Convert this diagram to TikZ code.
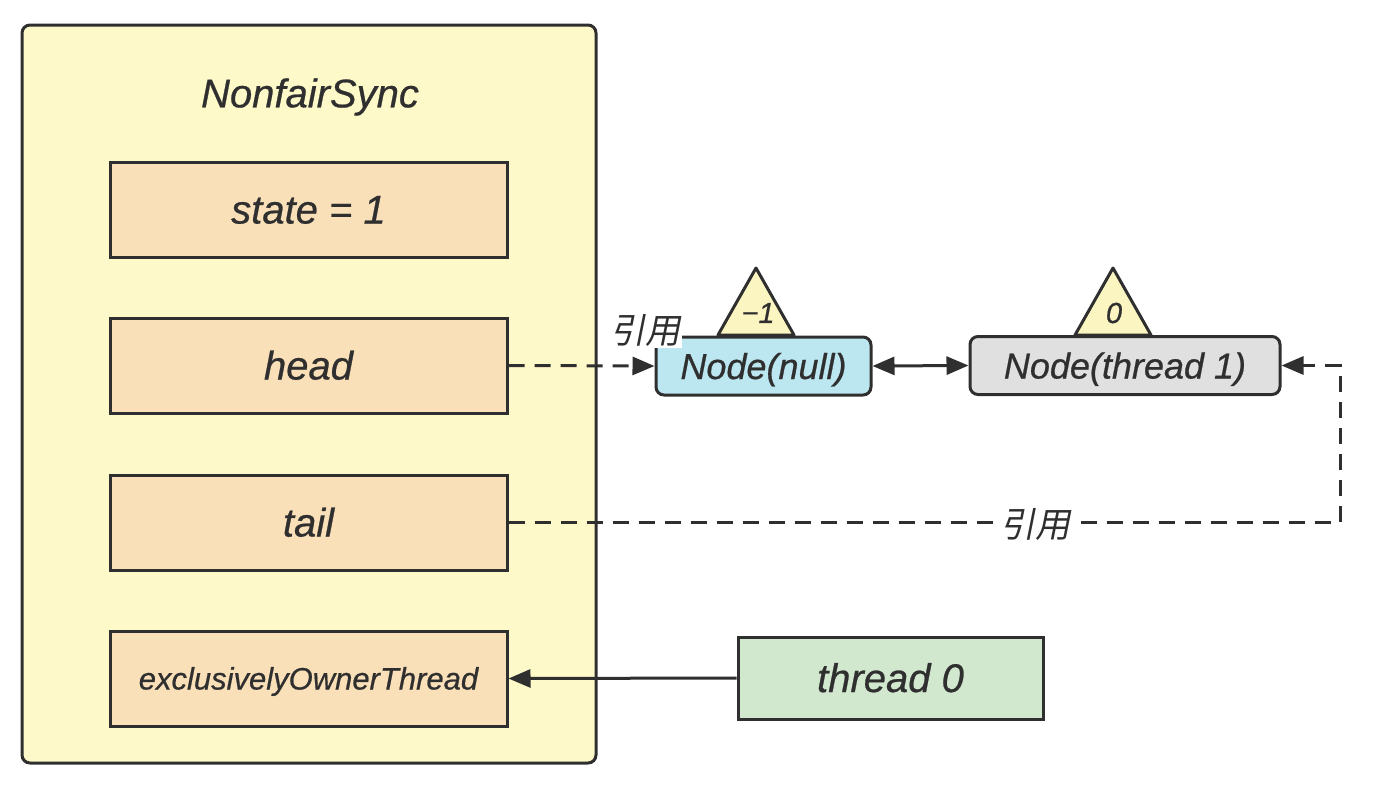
\documentclass[tikz,border=0pt]{standalone}
\usepackage{fontspec}
\usepackage{xcolor}
\usetikzlibrary{arrows.meta}
\setmainfont{Liberation Sans}[FakeBold=0.6]
\newfontfamily\cjk{Noto Sans CJK SC}[FakeSlant=0.2]
\definecolor{ink}{HTML}{2F2F2F}
\definecolor{syncfill}{HTML}{FEF9C9}
\definecolor{fieldfill}{HTML}{FAE0B8}
\definecolor{nullfill}{HTML}{BDE7F0}
\definecolor{threadfill}{HTML}{E0E0E0}
\definecolor{ownerfill}{HTML}{D1E7CE}
\definecolor{trifill}{HTML}{FBF5C1}
\tikzset{
	syncbox/.style={draw=ink,fill=syncfill,line width=1.5pt,rounded corners=4pt,minimum width=287pt,minimum height=369pt,inner sep=0pt},
	fieldbox/.style={draw=ink,fill=fieldfill,line width=1.5pt,minimum width=198.5pt,minimum height=47.5pt,inner sep=0pt,text height=14pt,text depth=0pt,font=\itshape\fontsize{20}{24}\selectfont,text=ink},
	qnode/.style={draw=ink,line width=1.5pt,rounded corners=4pt,minimum height=29pt,inner sep=0pt,text height=13pt,text depth=0pt,font=\itshape\fontsize{18}{22}\selectfont,text=ink},
	tri/.style={draw=ink,fill=trifill,line width=1.5pt,line join=round},
	trilabel/.style={font=\itshape\fontsize{14.5}{17}\selectfont,text=ink,inner sep=0pt},
	reflabel/.style={fill=white,font=\cjk\fontsize{17.5}{19}\selectfont,text=ink,inner sep=1pt},
	link/.style={draw=ink,line width=1.5pt,-{Triangle[length=11pt,width=9pt]}},
	dashlink/.style={link,dash pattern=on 8pt off 5pt}
}
\begin{document}
\begin{tikzpicture}[x=0.5pt,y=-0.5pt]
	\useasboundingbox (0,0) rectangle (1380,794);
	\node[syncbox] (sync) at (309,394) {};
	\node[font=\itshape\fontsize{20}{24}\selectfont,text=ink] (title) at (310,97) {NonfairSync};
	\node[fieldbox] (state) at (308.5,209.5) {state = 1};
	\node[fieldbox] (head) at (308.5,365.5) {head};
	\node[fieldbox] (tail) at (308.5,522.5) {tail};
	\node[fieldbox,font=\itshape\fontsize{15.5}{18}\selectfont,text height=11pt] (owner) at (308.5,678.5) {exclusivelyOwnerThread};
	\draw[tri] (718,335) -- (756,268) -- (794,335) -- cycle;
	\draw[tri] (1075,335) -- (1113,268) -- (1151,335) -- cycle;
	\node[qnode,fill=nullfill,minimum width=107.5pt] (nnull) at (763.5,366) {Node(null)};
	\node[qnode,fill=threadfill,minimum width=155pt] (nthread) at (1125,365.5) {Node(thread 1)};
	\node[trilabel] (wnull) at (758,313) {−1};
	\node[trilabel] (wthread) at (1114,313) {0};
	\node[fieldbox,fill=ownerfill,minimum width=152.5pt,minimum height=41pt] (thread0) at (890.5,678) {thread 0};
	\coordinate (bend) at (1340,521);
	\draw[dashlink] (head.east) -- (nnull.west);
	\draw[link,{Triangle[length=11pt,width=9pt]}-{Triangle[length=11pt,width=9pt]}] (nnull.east) -- (nthread.west);
	\draw[dashlink] (tail.east) -- (tail.east -| bend) -- (bend |- nthread.east) -- (nthread.east);
	\draw[link] (thread0.west) -- (owner.east);
	\node[reflabel] (headref) at (645,330) {引用};
	\node[reflabel] (tailref) at (1035,524) {引用};
\end{tikzpicture}
\end{document}
